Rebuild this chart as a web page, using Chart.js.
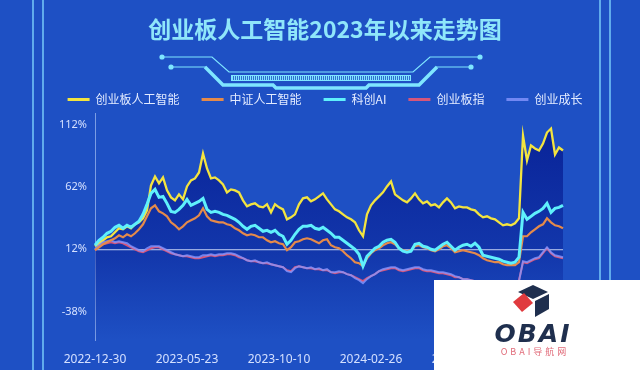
<!DOCTYPE html>
<html>
<head>
<meta charset="utf-8">
<script src="https://cdn.jsdelivr.net/npm/chart.js@4.4.1/dist/chart.umd.min.js"></script>
<style>
  html, body { margin: 0; padding: 0; background: #1e50c4; }
  #wrap { width: 640px; height: 370px; }
</style>
</head>
<body>
<div id="wrap"><canvas id="myChart" width="640" height="370"></canvas></div>
<script>
// series values, % change since 2022-12-30 (one point about every 4 trading days)
const cybAI = [14.4,16.8,19.2,21.6,22.4,25.6,28.8,28.0,30.4,28.8,32.0,33.6,36.8,43.2,63.2,70.4,64.8,69.6,59.2,53.6,
  51.2,56.0,52.0,62.4,67.2,68.8,73.6,88.8,76.8,68.8,69.6,67.2,64.0,57.6,60.0,59.2,57.6,51.2,46.4,48.0,
  48.8,46.4,45.6,48.0,41.6,48.0,45.6,44.0,36.0,37.6,40.0,48.0,52.8,53.6,50.4,52.0,54.4,56.8,52.0,48.0,
  44.0,42.4,40.0,37.6,36.0,33.6,27.2,22.4,40.0,47.2,51.2,54.4,57.6,62.4,66.4,56.0,53.6,51.2,49.6,52.8,
  56.8,52.0,48.8,50.4,47.2,48.0,45.6,49.6,52.8,49.6,44.8,46.4,45.6,45.6,44.0,43.2,40.0,37.6,38.4,36.8,
  36.0,33.6,31.2,32.0,31.2,32.8,36.8,103.2,83.2,95.2,92.8,91.2,96.8,105.6,108.8,88.0,93.6,91.2];

const csiAI = [11.2,13.6,16.0,17.6,19.2,20.8,23.2,21.6,24.0,22.4,24.8,28.0,32.0,38.4,44.8,47.2,42.4,40.8,38.4,33.6,
  31.2,28.0,30.4,33.6,35.2,36.8,39.2,44.8,38.4,35.2,34.4,33.6,33.6,32.0,31.2,28.8,27.2,24.8,23.2,24.0,
  23.2,21.6,21.6,19.2,17.6,18.4,16.8,16.0,11.2,13.6,17.6,18.4,20.0,20.8,20.0,18.4,16.8,19.2,20.0,15.2,
  13.6,12.8,10.4,7.2,4.8,1.6,0.8,-1.6,4.8,8.8,11.2,12.8,15.2,16.8,17.6,16.0,12.8,11.2,10.4,11.2,
  14.4,15.2,13.6,12.8,11.2,10.4,12.0,14.4,15.2,12.8,9.6,10.4,11.2,10.4,9.6,8.8,7.2,4.8,3.2,2.4,
  1.6,1.6,0.0,-0.8,-0.8,-0.8,1.6,22.4,22.4,25.6,28.0,30.4,32.0,36.8,33.6,31.2,30.4,28.8];

const kcAI = [15.2,19.2,21.6,24.8,26.4,29.6,31.2,28.8,31.2,29.6,32.0,34.4,40.0,48.0,56.8,60.0,53.6,54.4,48.8,42.4,
  41.6,44.0,47.2,52.0,47.2,48.8,50.4,52.8,44.0,41.6,42.4,41.6,40.0,39.2,37.6,36.0,33.6,30.4,28.0,30.4,
  31.2,28.8,26.4,27.2,25.6,27.2,24.0,22.4,16.0,19.2,24.0,28.0,30.4,30.4,31.2,28.8,28.0,29.6,27.2,24.8,
  21.6,21.6,19.2,16.8,14.4,12.0,8.0,-1.6,6.4,9.6,12.8,14.4,17.6,19.2,20.0,17.6,12.8,10.4,9.6,10.4,
  16.0,16.8,14.4,13.6,12.0,11.2,13.6,16.0,17.6,14.4,11.2,13.6,15.2,16.0,14.4,16.8,13.6,7.2,6.4,5.6,
  4.8,4.0,2.4,1.6,0.8,1.6,5.6,41.6,36.0,38.4,40.8,42.4,44.8,48.8,41.6,44.8,45.6,47.2];

const cybIndex = [11.2,14.4,16.0,16.8,17.6,16.8,17.6,16.8,15.2,13.6,12.0,10.4,9.6,11.2,12.8,13.6,13.6,12.0,10.4,8.8,
  8.0,7.2,6.4,6.4,5.6,4.8,4.8,5.6,6.4,7.2,6.4,7.2,7.2,8.0,8.0,7.2,5.6,4.8,3.2,2.4,
  2.4,1.6,0.8,0.8,0.0,-0.8,-1.6,-2.4,-4.8,-5.6,-2.4,-1.6,-2.4,-3.2,-3.2,-4.0,-4.0,-4.8,-4.8,-6.4,
  -7.2,-6.4,-6.4,-8.0,-8.8,-10.4,-12.0,-13.6,-11.2,-9.6,-8.0,-5.6,-4.8,-4.0,-3.2,-3.2,-4.8,-5.6,-4.8,-4.0,
  -3.2,-3.2,-4.8,-5.6,-5.6,-6.4,-7.2,-7.2,-8.0,-8.8,-10.4,-10.4,-12.0,-12.0,-12.8,-13.6,-14.4,-16.0,-16.8,-16.8,
  -17.6,-17.6,-18.4,-19.2,-18.4,-17.6,-12.8,1.6,0.8,2.4,4.0,4.8,8.8,12.8,8.8,6.4,5.6,4.8];

const cybGrowth = [12.0,15.2,17.6,18.4,19.2,17.6,18.4,17.6,16.8,14.4,12.8,11.2,10.4,12.8,14.4,14.4,14.4,12.8,11.2,9.6,
  8.0,7.2,6.4,7.2,6.4,5.6,5.6,7.2,7.2,8.0,7.2,8.0,8.0,8.8,8.8,8.0,6.4,4.8,3.2,2.4,
  3.2,1.6,0.8,1.6,0.0,-0.8,-1.6,-2.4,-5.6,-6.4,-3.2,-1.6,-2.4,-3.2,-2.4,-4.0,-3.2,-4.8,-4.0,-6.4,
  -6.4,-5.6,-6.4,-8.0,-8.8,-11.2,-12.8,-15.2,-12.0,-9.6,-8.0,-5.6,-4.0,-3.2,-2.4,-2.4,-4.0,-4.8,-4.0,-3.2,
  -2.4,-2.4,-4.0,-4.8,-4.8,-5.6,-6.4,-6.4,-7.2,-8.0,-9.6,-10.4,-12.0,-12.0,-12.8,-13.6,-14.4,-16.0,-16.8,-16.0,
  -16.8,-17.6,-18.4,-19.2,-18.4,-17.6,-13.6,2.4,1.6,3.2,4.8,5.6,9.6,13.6,9.6,7.2,6.4,5.6];

const seriesNames = ['创业板人工智能', '中证人工智能', '科创AI', '创业板指', '创业成长'];
const xTickLabels = ['2022-12-30', '2023-05-23', '2023-10-10', '2024-02-26', '2024-07-16', '2024-12-03'];
const xTickIdx = [0, 23, 46, 69, 92, 115];
const yTicks = [112, 62, 12, -38];
const baseLine = 12;

const labels = cybAI.map((v, i) => i);
const fontCJK = '"Noto Sans CJK SC", "Noto Sans", sans-serif';

function areaFill(context) {
    const area = context.chart.chartArea;
    if (!area) return 'rgba(8,32,150,0.6)';
    const g = context.chart.ctx.createLinearGradient(0, area.top, 0, area.bottom);
    g.addColorStop(0, 'rgba(6,28,145,0.9)');
    g.addColorStop(0.6, 'rgba(6,28,145,0.5)');
    g.addColorStop(1, 'rgba(6,28,145,0)');
    return g;
}

const backdrop = {
    id: 'backdrop',
    beforeDraw(chart) {
        const ctx = chart.ctx;
        ctx.save();
        ctx.fillStyle = '#1e50c4';
        ctx.fillRect(0, 0, chart.width, chart.height);
        // frame lines
        ctx.strokeStyle = 'rgba(130,215,255,0.9)';
        ctx.lineWidth = 1.5;
        [33, 43, 600, 610].forEach(x => {
            ctx.beginPath(); ctx.moveTo(x, 0); ctx.lineTo(x, chart.height); ctx.stroke();
        });
        // circuit decoration under the title
        ctx.strokeStyle = '#7fe6ff';
        ctx.fillStyle = '#7fe6ff';
        ctx.lineWidth = 1.2;
        ctx.beginPath();
        ctx.moveTo(162, 57); ctx.lineTo(212, 57); ctx.lineTo(229, 72); ctx.lineTo(413, 72); ctx.lineTo(430, 57); ctx.lineTo(480, 57);
        ctx.stroke();
        ctx.beginPath();
        ctx.moveTo(171, 67); ctx.lineTo(206, 67);
        ctx.moveTo(436, 67); ctx.lineTo(471, 67);
        ctx.stroke();
        ctx.lineWidth = 3.5;
        ctx.beginPath();
        ctx.moveTo(205, 67); ctx.lineTo(223, 85); ctx.lineTo(273, 85); ctx.lineTo(276, 88);
        ctx.lineTo(366, 88); ctx.lineTo(369, 85); ctx.lineTo(419, 85); ctx.lineTo(437, 67);
        ctx.stroke();
        [[162, 57], [171, 67], [480, 57], [471, 67]].forEach(p => {
            ctx.beginPath(); ctx.arc(p[0], p[1], 2.6, 0, Math.PI * 2); ctx.fill();
        });
        ctx.fillRect(231, 75, 180, 6);
        ctx.fillStyle = 'rgba(30,80,196,0.8)';
        for (let x = 233; x < 410; x += 2) ctx.fillRect(x, 76, 1, 4);
        ctx.restore();
    },
    beforeDatasetDraw(chart, args) {
        if (args.index !== 0) return;
        const ctx = chart.ctx;
        const y = chart.scales.y.getPixelForValue(baseLine);
        const x0 = chart.chartArea.left;
        const x1 = chart.scales.x.getPixelForValue(labels.length - 1);
        ctx.save();
        ctx.strokeStyle = 'rgba(225,235,255,0.85)';
        ctx.lineWidth = 1;
        ctx.beginPath(); ctx.moveTo(x0, y + 0.5); ctx.lineTo(x1, y + 0.5); ctx.stroke();
        ctx.restore();
    },
    afterDraw(chart) {
        // site watermark in the lower right corner
        const ctx = chart.ctx;
        ctx.save();
        ctx.fillStyle = '#ffffff';
        ctx.fillRect(434, 280, 206, 90);
        ctx.fillStyle = '#1f2f4e';
        ctx.beginPath(); ctx.moveTo(518, 292); ctx.lineTo(533, 285); ctx.lineTo(548, 292); ctx.lineTo(533, 299); ctx.closePath(); ctx.fill();
        ctx.beginPath(); ctx.moveTo(535, 301); ctx.lineTo(549, 294); ctx.lineTo(549, 309); ctx.lineTo(535, 317); ctx.closePath(); ctx.fill();
        ctx.fillStyle = '#e03a3e';
        ctx.beginPath(); ctx.moveTo(513, 302); ctx.lineTo(524, 293); ctx.lineTo(533, 303); ctx.lineTo(522, 312); ctx.closePath(); ctx.fill();
        ctx.fillStyle = '#1f2f4e';
        ctx.font = 'italic bold 25px "DejaVu Sans", sans-serif';
        ctx.textAlign = 'center';
        ctx.textBaseline = 'middle';
        ctx.letterSpacing = '2px';
        ctx.fillText('OBAI', 533, 335);
        ctx.fillStyle = '#e06a78';
        ctx.font = '9px ' + fontCJK;
        ctx.letterSpacing = '3px';
        ctx.fillText('OBAI导航网', 535, 352);
        ctx.restore();
    }
};

const legendGap = {
    id: 'legendGap',
    beforeInit(chart) {
        const fit = chart.legend.fit;
        chart.legend.fit = function () {
            fit.bind(chart.legend)();
            this.height -= 2;
        };
    }
};

const lineColors = ['#f3e43f', '#e58a4a', '#5ff0fc', 'rgba(224,86,118,0.95)', 'rgba(135,150,255,0.8)'];
const seriesData = [cybAI, csiAI, kcAI, cybIndex, cybGrowth];
const lineWidths = [2.3, 2.2, 3, 2, 2];
const drawOrder = [5, 2, 1, 4, 3];

const datasets = seriesData.map((d, i) => ({
    label: seriesNames[i],
    data: d,
    borderColor: lineColors[i],
    backgroundColor: i === 0 ? areaFill : lineColors[i],
    borderWidth: lineWidths[i],
    fill: i === 0 ? 'start' : false,
    pointRadius: 0,
    tension: 0,
    order: drawOrder[i]
}));

new Chart(document.getElementById('myChart'), {
    type: 'line',
    data: { labels: labels, datasets: datasets },
    plugins: [backdrop, legendGap],
    options: {
        responsive: false,
        animation: false,
        layout: { padding: { left: 10, right: 0, top: 0, bottom: 0 } },
        plugins: {
            tooltip: { enabled: false },
            title: {
                display: true,
                text: '创业板人工智能2023年以来走势图',
                color: '#8fe6fa',
                font: { family: fontCJK, size: 23, weight: 'bold' },
                padding: { top: 15, bottom: 29 }
            },
            legend: {
                position: 'top',
                labels: {
                    color: '#e3ebff',
                    font: { family: fontCJK, size: 12 },
                    boxWidth: 22,
                    boxHeight: 3,
                    padding: 22,
                    generateLabels(chart) {
                        const items = Chart.defaults.plugins.legend.labels.generateLabels(chart);
                        items.forEach(it => {
                            const c = chart.data.datasets[it.datasetIndex].borderColor;
                            it.fillStyle = c;
                            it.strokeStyle = c;
                            it.lineWidth = 0;
                        });
                        return items.sort((a, b) => a.datasetIndex - b.datasetIndex);
                    }
                }
            }
        },
        scales: {
            x: {
                type: 'category',
                grid: { display: false, drawTicks: false },
                border: { display: false },
                afterBuildTicks(scale) {
                    scale.ticks = xTickIdx.map(i => ({ value: i }));
                },
                afterFit(scale) { scale.height = 30; },
                ticks: {
                    autoSkip: false,
                    maxRotation: 0,
                    padding: 12,
                    color: '#d4e0ff',
                    font: { family: '"Noto Sans", sans-serif', size: 12 },
                    callback: (v) => xTickLabels[xTickIdx.indexOf(v)]
                }
            },
            y: {
                min: -60.8,
                max: 120.8,
                grid: { display: false, drawTicks: false },
                border: { display: true, color: 'rgba(200,220,255,0.55)', width: 1 },
                afterBuildTicks(scale) {
                    scale.ticks = yTicks.map(v => ({ value: v }));
                },
                afterFit(scale) { scale.width = 85; },
                ticks: {
                    padding: 8,
                    color: '#d4e0ff',
                    font: { family: '"Noto Sans", sans-serif', size: 11 },
                    callback: (v) => v + '%'
                }
            },
            yR: {
                type: 'linear',
                position: 'right',
                grid: { display: false, drawTicks: false },
                border: { display: false },
                ticks: { display: false },
                afterFit(scale) { scale.width = 77; }
            }
        }
    }
});
</script>
</body>
</html>
